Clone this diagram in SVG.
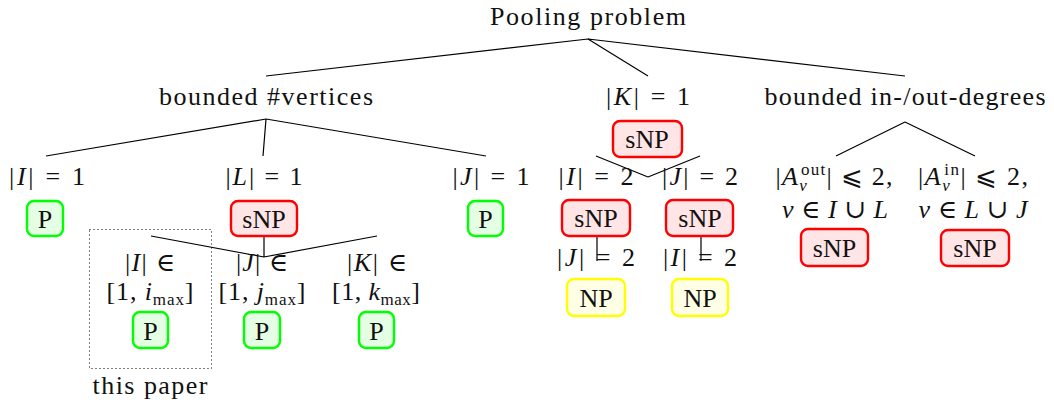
<svg xmlns="http://www.w3.org/2000/svg" width="1054" height="407" viewBox="0 0 1054 407">
<style>
text{font-family:"Liberation Serif","DejaVu Serif",serif;font-size:26px;fill:#111;text-anchor:middle}
.i{font-style:italic}
.s{font-size:17px}
.c{stroke:#000;stroke-width:1.2;fill:none}
.P{fill:#e5ffe5;stroke:#00ff00;stroke-width:2.4}
.S{fill:#ffe5e5;stroke:#ff0000;stroke-width:2.4}
.N{fill:#ffffe5;stroke:#ffff00;stroke-width:2.4}
</style>
<g id="connectors" class="c">
<path d="M588 39 L266 76 M588 39 L648 76 M588 39 L905 76"/>
<path d="M266 119 L46 156 M266 119 L263 156 M266 119 L486 156"/>
<path d="M648 177 L596 156 M648 177 L700 156"/>
<path d="M905 122 L836 156 M905 122 L975 156"/>
<path d="M264 236 L264 257 M151 236 L264 257 L377 236"/>
<path d="M597 236 L597 261 M701 236 L701 261"/>
</g>
<g id="root"><text x="588" y="25" textLength="196" lengthAdjust="spacing">Pooling problem</text></g>
<g id="vertices"><text x="266" y="105" textLength="214" lengthAdjust="spacing">bounded #vertices</text></g>
<g id="k1"><text x="648" y="105" textLength="84" lengthAdjust="spacing">|<tspan class="i">K</tspan>| = 1</text>
<rect class="S" x="613" y="121" width="69" height="36" rx="7"/><text x="647" y="148">sNP</text></g>
<g id="degrees"><text x="905" y="105" textLength="281" lengthAdjust="spacing">bounded in-/out-degrees</text></g>
<g id="i1"><text x="47" y="185" textLength="76" lengthAdjust="spacing">|<tspan class="i">I</tspan>| = 1</text>
<rect class="P" x="27" y="201" width="36" height="35" rx="7"/><text x="45" y="228">P</text></g>
<g id="l1"><text x="264" y="185" textLength="77" lengthAdjust="spacing">|<tspan class="i">L</tspan>| = 1</text>
<rect class="S" x="231" y="201" width="66" height="35" rx="7"/><text x="264" y="228">sNP</text></g>
<g id="j1"><text x="491" y="185" textLength="77" lengthAdjust="spacing">|<tspan class="i">J</tspan>| = 1</text>
<rect class="P" x="468" y="201" width="35" height="35" rx="7"/><text x="485.5" y="228">P</text></g>
<g id="i2"><text x="596" y="185" textLength="75" lengthAdjust="spacing">|<tspan class="i">I</tspan>| = 2</text>
<rect class="S" x="562" y="200" width="68" height="36" rx="7"/><text x="596" y="227">sNP</text>
<text x="596" y="266" textLength="78" lengthAdjust="spacing">|<tspan class="i">J</tspan>| = 2</text>
<rect class="N" x="567" y="279" width="58" height="37" rx="7"/><text x="596" y="307">NP</text></g>
<g id="j2"><text x="700" y="185" textLength="76" lengthAdjust="spacing">|<tspan class="i">J</tspan>| = 2</text>
<rect class="S" x="666" y="200" width="67" height="36" rx="7"/><text x="700" y="227">sNP</text>
<text x="700" y="266" textLength="74" lengthAdjust="spacing">|<tspan class="i">I</tspan>| = 2</text>
<rect class="N" x="672" y="279" width="56" height="37" rx="7"/><text x="700" y="307">NP</text></g>
<g id="aout"><text x="834" y="185" textLength="117" lengthAdjust="spacing">|<tspan class="i">A</tspan><tspan class="s i" dy="6">v</tspan><tspan class="s" dx="-7" dy="-16">out</tspan><tspan dy="10">| ⩽ 2,</tspan></text>
<text x="835" y="218" textLength="106" lengthAdjust="spacing"><tspan class="i">v</tspan> ∈ <tspan class="i">I</tspan> ∪ <tspan class="i">L</tspan></text>
<rect class="S" x="801" y="229" width="67" height="37" rx="7"/><text x="834.5" y="257">sNP</text></g>
<g id="ain"><text x="973" y="185" textLength="110" lengthAdjust="spacing">|<tspan class="i">A</tspan><tspan class="s i" dy="6">v</tspan><tspan class="s" dx="-7" dy="-16">in</tspan><tspan dy="10">| ⩽ 2,</tspan></text>
<text x="973" y="218" textLength="109" lengthAdjust="spacing"><tspan class="i">v</tspan> ∈ <tspan class="i">L</tspan> ∪ <tspan class="i">J</tspan></text>
<rect class="S" x="941" y="230" width="68" height="36" rx="7"/><text x="975" y="257">sNP</text></g>
<g id="irange"><text x="150" y="271" textLength="50" lengthAdjust="spacing">|<tspan class="i">I</tspan>| ∈</text>
<text x="150" y="300" textLength="87" lengthAdjust="spacing">[1, <tspan class="i">i</tspan><tspan class="s" dy="5">max</tspan><tspan dy="-5">]</tspan></text>
<rect class="P" x="133" y="312" width="35" height="36" rx="7"/><text x="150.5" y="340">P</text></g>
<g id="jrange"><text x="262" y="271" textLength="52" lengthAdjust="spacing">|<tspan class="i">J</tspan>| ∈</text>
<text x="262" y="300" textLength="87" lengthAdjust="spacing">[1, <tspan class="i">j</tspan><tspan class="s" dy="5">max</tspan><tspan dy="-5">]</tspan></text>
<rect class="P" x="244" y="312" width="36" height="36" rx="7"/><text x="262" y="340">P</text></g>
<g id="krange"><text x="377" y="271" textLength="60" lengthAdjust="spacing">|<tspan class="i">K</tspan>| ∈</text>
<text x="376" y="300" textLength="88" lengthAdjust="spacing">[1, <tspan class="i">k</tspan><tspan class="s" dy="5">max</tspan><tspan dy="-5">]</tspan></text>
<rect class="P" x="359" y="312" width="35" height="36" rx="7"/><text x="376.5" y="340">P</text></g>
<g id="thispaper"><rect x="89.5" y="229.5" width="122" height="139" fill="none" stroke="#000" stroke-width="1" stroke-dasharray="1 3"/>
<text x="150" y="394" textLength="115" lengthAdjust="spacing">this paper</text></g>
</svg>
